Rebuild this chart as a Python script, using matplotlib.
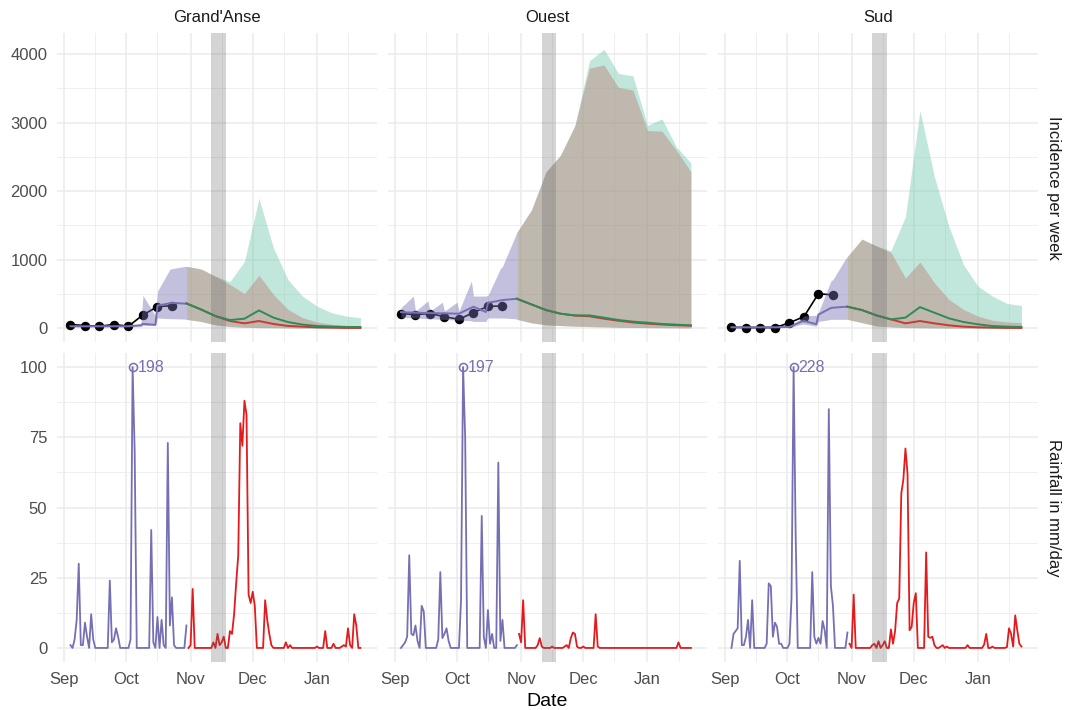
import numpy as np
import matplotlib.pyplot as plt

plt.rcParams['font.family'] = ['Liberation Sans', 'DejaVu Sans']

############################# DATA #############################
regions = ["Grand'Anse", "Ouest", "Sud"]

# weekly observed cases
obs_dates = np.array(['2016-09-04', '2016-09-11', '2016-09-18', '2016-09-25',
                      '2016-10-02', '2016-10-09', '2016-10-16', '2016-10-23'],
                     dtype='datetime64[D]')
obs_ga = [55, 40, 30, 55, 30, 195, 315, 330]
obs_ouest = [215, 200, 215, 170, 130, 230, 320, 325]
obs_sud = [15, 10, 10, 10, 80, 170, 505, 485]

# model fit (week ends doubled to get the step shape)
fit_dates = np.array(['2016-09-04', '2016-09-10', '2016-09-11', '2016-09-17', '2016-09-18',
                      '2016-09-24', '2016-09-25', '2016-10-01', '2016-10-02', '2016-10-08',
                      '2016-10-09', '2016-10-15', '2016-10-16', '2016-10-22', '2016-10-23',
                      '2016-10-29', '2016-10-30'], dtype='datetime64[D]')
fit_ga = [30, 30, 30, 30, 30, 30, 30, 30, 30, 45, 65, 50, 330, 365, 370, 360, 360]
fit_lo_ga = [20, 20, 20, 20, 20, 20, 20, 20, 20, 25, 40, 40, 150, 140, 140, 135, 130]
fit_hi_ga = [40, 40, 40, 40, 40, 40, 40, 40, 40, 60, 480, 180, 540, 860, 870, 900, 903]
fit_ouest = [235, 228, 228, 222, 222, 218, 218, 213, 213, 300, 314, 237, 372, 405, 411, 428, 430]
fit_lo_ouest = [160, 150, 150, 140, 140, 130, 130, 120, 120, 110, 100, 100, 150, 150, 150, 140, 130]
fit_hi_ouest = [300, 470, 250, 400, 250, 380, 250, 380, 250, 690, 470, 470, 480, 870, 900, 1330, 1400]
fit_sud = [15, 15, 15, 15, 15, 15, 15, 20, 20, 100, 106, 60, 200, 295, 300, 314, 314]
fit_lo_sud = [5, 5, 5, 5, 5, 5, 5, 10, 10, 60, 60, 30, 100, 130, 130, 130, 130]
fit_hi_sud = [25, 25, 25, 25, 25, 25, 25, 30, 30, 150, 180, 190, 230, 690, 710, 1010, 1048]

# projections
proj_dates = np.array(['2016-10-30', '2016-11-06', '2016-11-13', '2016-11-20', '2016-11-27',
                       '2016-12-04', '2016-12-11', '2016-12-18', '2016-12-25', '2017-01-01',
                       '2017-01-08', '2017-01-15', '2017-01-22'], dtype='datetime64[D]')
green_ga = [362, 275, 178, 120, 140, 260, 155, 91, 54, 33, 25, 19, 19]
red_ga = [362, 275, 178, 106, 72, 106, 63, 34, 24, 14, 10, 5, 5]
red_hi_ga = [903, 865, 758, 638, 507, 772, 493, 275, 155, 91, 58, 43, 33]
green_hi_ga = [903, 865, 758, 680, 975, 1894, 1170, 710, 468, 323, 228, 178, 155]
proj_lo_ga = [130, 100, 50, 25, 15, 10, 8, 5, 3, 2, 1, 1, 1]

green_ouest = [430, 348, 266, 213, 188, 188, 155, 121, 97, 82, 63, 53, 43]
red_ouest = [430, 348, 266, 213, 185, 175, 140, 110, 85, 68, 55, 45, 38]
red_hi_ouest = [1400, 1725, 2280, 2522, 2957, 3792, 3841, 3512, 3473, 2884, 2874, 2594, 2280]
green_hi_ouest = [1400, 1725, 2280, 2522, 2957, 3899, 4068, 3715, 3681, 2957, 3053, 2643, 2411]
proj_lo_ouest = [130, 80, 50, 40, 30, 25, 20, 15, 12, 10, 8, 6, 5]

green_sud = [314, 266, 188, 130, 155, 309, 227, 145, 92, 58, 33, 24, 19]
red_sud = [314, 266, 188, 130, 72, 106, 72, 43, 24, 14, 10, 5, 5]
red_hi_sud = [1048, 1300, 1200, 1106, 734, 966, 662, 420, 275, 178, 116, 92, 82]
green_hi_sud = [1048, 1300, 1200, 1130, 1628, 3174, 2208, 1483, 928, 614, 469, 362, 333]
proj_lo_sud = [130, 82, 34, 20, 10, 8, 5, 3, 2, 1, 1, 1, 1]

# daily rainfall, Sep 4 - Oct 30 (fit) and Oct 31 - Jan 22 (projection)
rain_fit_dates = np.arange('2016-09-04', '2016-10-31', dtype='datetime64[D]')
rain_proj_dates = np.arange('2016-10-31', '2017-01-23', dtype='datetime64[D]')

rain_fit_ga = [1, 0, 3, 10, 30, 1, 1,
               9, 4, 0, 12, 3, 0, 0,
               0, 0, 0, 0, 0, 24, 2,
               3, 7, 4, 0, 0, 0, 0,
               0, 3, 198, 70, 0, 0, 0,
               0, 0, 0, 0, 42, 2, 0,
               11, 0, 10, 1, 0, 73, 8,
               18, 1, 0, 0, 0, 0, 0,
               8]
rain_proj_ga = [0, 1, 21, 0, 0, 0, 0,
                0, 0, 0, 0, 0, 2, 0,
                5, 1, 2, 4, 0, 0, 6,
                5, 12, 23, 33, 80, 72, 88,
                83, 19, 16, 20, 15, 0, 0,
                0, 0, 17, 10, 5, 1, 0,
                0, 0, 0, 0, 0, 2, 0,
                1, 0, 0, 0, 0, 0, 0,
                0, 0, 0, 0, 0, 0, 0.5,
                0, 0, 0, 6, 0, 0, 0,
                1.5, 0, 0, 0, 0.5, 1, 0.5,
                7, 1, 0, 12, 8, 0, 0]

rain_fit_ouest = [0, 1, 2, 4, 33, 5, 4.5,
                  8, 2.5, 0, 15, 13, 0, 0,
                  0, 0, 0, 0, 3, 27, 3.5,
                  5, 7, 2.5, 0, 0, 0, 0,
                  0, 17, 197, 75, 0, 0, 0,
                  0, 0, 0, 0, 47, 4, 0,
                  13.5, 1.5, 5, 0, 0, 66, 2.5,
                  10, 0, 0, 0, 0, 0, 0,
                  1]
rain_proj_ouest = [5, 2, 17, 0, 0, 0, 0,
                   0, 0, 1, 3.5, 0.5, 0, 0,
                   0, 0, 0.5, 0, 0, 0, 0,
                   0, 0.5, 1, 0, 3.5, 5.5, 5,
                   0.5, 0, 0, 0.5, 0, 0, 0,
                   0, 0, 12, 0.5, 0, 0, 0,
                   0, 0, 0, 0, 0, 0, 0,
                   0, 0, 0, 0, 0, 0, 0,
                   0, 0, 0, 0, 0, 0, 0,
                   0, 0, 0, 0, 0, 0, 0,
                   0, 0, 0, 0, 0, 0, 0,
                   2, 0, 0, 0, 0, 0, 0]

rain_fit_sud = [0, 5, 6, 7, 31, 1, 1,
                4, 10, 0, 17, 0, 0, 0,
                0, 0, 0, 1.5, 23, 22, 4,
                9, 7.5, 1.5, 1.5, 0, 0, 0,
                1.5, 18, 228, 40, 0, 0, 0,
                0, 0, 0, 0, 27, 4, 1.5,
                3.6, 1.5, 9.6, 6.3, 0, 85, 22,
                15, 0, 0, 0, 0, 0, 0,
                5.5]
rain_proj_sud = [1.5, 0, 19, 0, 0, 0, 0,
                 0, 0, 0, 0, 1, 1.5, 0,
                 2.4, 0, 1, 2.4, 0, 0, 6.6,
                 1.5, 6, 16, 17.6, 55, 60, 71,
                 62, 6.3, 7.5, 16, 19.5, 0, 0,
                 0, 0, 34, 4, 3.6, 4, 1,
                 0, 0, 0.5, 1, 0, 0.5, 0,
                 0, 0, 0, 0, 0, 0, 0,
                 0, 1, 0, 0, 0, 0, 0,
                 0, 0, 1.2, 5, 0, 0, 0.5,
                 0, 0, 0, 0, 0, 0, 0.3,
                 7, 5, 0.5, 11.6, 6.3, 1.5, 0.5]

rain_cap = 100

band = (np.datetime64('2016-11-11'), np.datetime64('2016-11-18'))

month_ticks = np.array(['2016-09-01', '2016-10-01', '2016-11-01', '2016-12-01', '2017-01-01'],
                       dtype='datetime64[D]')
month_labels = ['Sep', 'Oct', 'Nov', 'Dec', 'Jan']
month_minor = np.array(['2016-09-16', '2016-10-16', '2016-11-16', '2016-12-16', '2017-01-16'],
                       dtype='datetime64[D]')

############################# STYLE #############################
purple = '#7570b3'
teal = '#66c2a5'
brown = '#bd746d'
green_line = '#2e8b57'
red_line = '#c43c32'
rain_red = '#e41a1c'
grid_col = '#ebebeb'
txt_col = '#4d4d4d'

xlim = (np.datetime64('2016-08-28T12'), np.datetime64('2017-01-30T00'))


def style_axis(ax, yticks, yminor, ylim, show_x, show_y):
    ax.set_xlim(*xlim)
    ax.set_ylim(*ylim)
    ax.set_xticks(month_ticks)
    ax.set_xticks(month_minor, minor=True)
    ax.set_yticks(yticks)
    ax.set_yticks(yminor, minor=True)
    ax.grid(which='major', color=grid_col, lw=1.1)
    ax.grid(which='minor', color=grid_col, lw=0.55)
    ax.set_axisbelow(True)
    for s in ax.spines.values():
        s.set_visible(False)
    ax.tick_params(which='both', length=0, labelsize=12, colors=txt_col)
    ax.tick_params(axis='x', pad=7)
    ax.tick_params(axis='y', pad=7)
    if show_x:
        ax.set_xticklabels(month_labels)
    else:
        ax.set_xticklabels([])
    if show_y:
        ax.set_yticklabels([str(t) for t in yticks])
    else:
        ax.set_yticklabels([])


def draw_incidence(ax, obs, fit, fit_lo, fit_hi, green, red, red_hi, green_hi, proj_lo):
    ax.plot(obs_dates, obs, color='black', lw=1.2, marker='o', ms=5.8, zorder=2)
    ax.fill_between(fit_dates, fit_lo, fit_hi, color=purple, alpha=0.44, lw=0, zorder=3)
    ax.fill_between(proj_dates, proj_lo, green_hi, color=teal, alpha=0.4, lw=0, zorder=3)
    ax.fill_between(proj_dates, proj_lo, red_hi, color=brown, alpha=0.4, lw=0, zorder=3)
    ax.plot(fit_dates, fit, color=purple, lw=1.4, zorder=4)
    ax.plot(proj_dates, red, color=red_line, lw=1.4, zorder=4)
    ax.plot(proj_dates, green, color=green_line, lw=1.4, zorder=4)
    ax.axvspan(band[0], band[1], color='#666666', alpha=0.28, lw=0, zorder=5)


def draw_rain(ax, r_fit, r_proj):
    r_fit = np.array(r_fit, dtype=float)
    r_proj = np.array(r_proj, dtype=float)
    ax.axvspan(band[0], band[1], color='#666666', alpha=0.28, lw=0, zorder=5)
    ax.plot(rain_fit_dates, np.minimum(r_fit, rain_cap), color=purple, lw=1.3, zorder=3)
    ax.plot(rain_proj_dates, np.minimum(r_proj, rain_cap), color=rain_red, lw=1.3, zorder=3)
    # values above the cap: open circle + true value
    for d, v in zip(rain_fit_dates[r_fit > rain_cap], r_fit[r_fit > rain_cap]):
        ax.plot([d], [rain_cap], marker='o', ms=5.8, mfc='none', mec=purple, mew=1.1, zorder=4)
        ax.annotate(str(int(v)), (d, rain_cap), xytext=(3.5, 0), textcoords='offset points',
                    ha='left', va='center', color=purple, fontsize=11.5)


############################# FIGURE #############################
W, H = 1065, 710
fig = plt.figure(figsize=(W / 100, H / 100), dpi=100)

lefts = [57, 387.5, 718]
pw, ph = 320, 309
top_row_top, bot_row_top = 33, 353

incidence = [
    (obs_ga, fit_ga, fit_lo_ga, fit_hi_ga, green_ga, red_ga, red_hi_ga, green_hi_ga, proj_lo_ga),
    (obs_ouest, fit_ouest, fit_lo_ouest, fit_hi_ouest, green_ouest, red_ouest, red_hi_ouest,
     green_hi_ouest, proj_lo_ouest),
    (obs_sud, fit_sud, fit_lo_sud, fit_hi_sud, green_sud, red_sud, red_hi_sud, green_hi_sud,
     proj_lo_sud),
]
rain = [(rain_fit_ga, rain_proj_ga), (rain_fit_ouest, rain_proj_ouest),
        (rain_fit_sud, rain_proj_sud)]

for i, name in enumerate(regions):
    x0 = lefts[i] / W
    ax1 = fig.add_axes([x0, 1 - (top_row_top + ph) / H, pw / W, ph / H])
    ax2 = fig.add_axes([x0, 1 - (bot_row_top + ph) / H, pw / W, ph / H])

    draw_incidence(ax1, *incidence[i])
    style_axis(ax1, [0, 1000, 2000, 3000, 4000], [500, 1500, 2500, 3500],
               (-200, 4305), False, i == 0)
    ax1.text(0.5, 1 + 16 / ph, name, transform=ax1.transAxes, ha='center', va='center',
             fontsize=12, color='#1a1a1a')

    draw_rain(ax2, *rain[i])
    style_axis(ax2, [0, 25, 50, 75, 100], [12.5, 37.5, 62.5, 87.5], (-5, 105), True, i == 0)

    if i == 2:
        ax1.text(1 + 15 / pw, 0.5, 'Incidence per week', transform=ax1.transAxes,
                 rotation=-90, ha='center', va='center', fontsize=12, color='#1a1a1a')
        ax2.text(1 + 15 / pw, 0.5, 'Rainfall in mm/day', transform=ax2.transAxes,
                 rotation=-90, ha='center', va='center', fontsize=12, color='#1a1a1a')

fig.text(547.5 / W, 1 - 702 / H, 'Date', ha='center', va='center', fontsize=14)

plt.savefig('out.png', dpi=100)
